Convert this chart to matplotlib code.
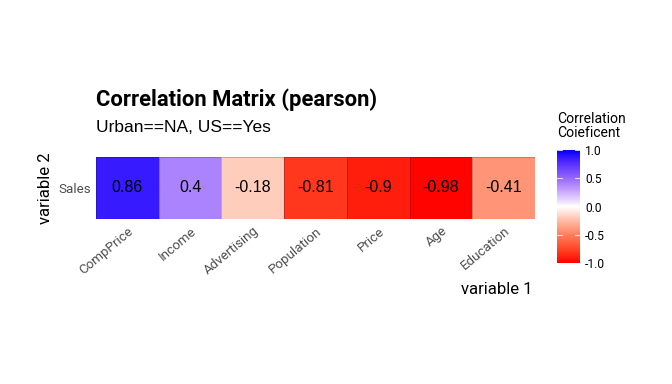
import numpy as np
import matplotlib
matplotlib.use("Agg")
import matplotlib.pyplot as plt
from matplotlib.colors import ListedColormap, Normalize
from matplotlib.cm import ScalarMappable

# data
row_label = "Sales"
variables = ["CompPrice", "Income", "Advertising", "Population", "Price", "Age", "Education"]
corr = [0.86, 0.4, -0.18, -0.81, -0.9, -0.98, -0.41]
cbar_ticks = [-1.0, -0.5, 0.0, 0.5, 1.0]


# red - white - blue gradient interpolated in Lab space
def srgb_to_lab(rgb):
    rgb = np.asarray(rgb, float)
    lin = np.where(rgb <= 0.04045, rgb / 12.92, ((rgb + 0.055) / 1.055) ** 2.4)
    m = np.array([[0.4124, 0.3576, 0.1805],
                  [0.2126, 0.7152, 0.0722],
                  [0.0193, 0.1192, 0.9505]])
    xyz = lin @ m.T / np.array([0.95047, 1.0, 1.08883])
    f = np.where(xyz > 0.008856, np.cbrt(xyz), 7.787 * xyz + 16 / 116)
    return np.stack([116 * f[..., 1] - 16,
                     500 * (f[..., 0] - f[..., 1]),
                     200 * (f[..., 1] - f[..., 2])], -1)


def lab_to_srgb(lab):
    L, a, b = lab[..., 0], lab[..., 1], lab[..., 2]
    fy = (L + 16) / 116
    fx = fy + a / 500
    fz = fy - b / 200
    f = np.stack([fx, fy, fz], -1)
    xyz = np.where(f ** 3 > 0.008856, f ** 3, (f - 16 / 116) / 7.787)
    xyz = xyz * np.array([0.95047, 1.0, 1.08883])
    minv = np.array([[3.2406, -1.5372, -0.4986],
                     [-0.9689, 1.8758, 0.0415],
                     [0.0557, -0.2040, 1.0570]])
    lin = np.clip(xyz @ minv.T, 0, 1)
    rgb = np.where(lin <= 0.0031308, 12.92 * lin, 1.055 * lin ** (1 / 2.4) - 0.055)
    return np.clip(rgb, 0, 1)


red = srgb_to_lab([1, 0, 0])
white = srgb_to_lab([1, 1, 1])
blue = srgb_to_lab([0, 0, 1])
t = np.linspace(0, 1, 128)[:, None]
t2 = 1 - (1 - t) ** 1.5   # the reference ramps towards the ends faster
lower = white + (red - white) * t2[::-1]
upper = white + (blue - white) * t2
cmap = ListedColormap(lab_to_srgb(np.vstack([lower, upper])))
norm = Normalize(-1, 1)

fig = plt.figure(figsize=(7, 4), dpi=96)
ax = fig.add_axes([0.1429, 0.4297, 0.6533, 0.1615])

vals = np.array([corr])
ax.pcolormesh(vals, cmap=cmap, norm=norm, edgecolor=(0, 0, 0, 0.2), linewidth=0.6)
for i, v in enumerate(corr):
    ax.text(i + 0.5, 0.5, f"{v:g}", ha="center", va="center", fontsize=12,
            family="Liberation Sans", color="black")

ax.set_xlim(0, len(variables))
ax.set_ylim(0, 1)
ax.set_xticks(np.arange(len(variables)) + 0.5)
ax.set_xticklabels(variables, rotation=40, ha="right", rotation_mode="anchor",
                   fontsize=10, family="Roboto", color="#4d4d4d")
ax.set_yticks([0.5])
ax.set_yticklabels([row_label], fontsize=10, family="Roboto", color="#4d4d4d")
ax.tick_params(length=0, pad=4)
for s in ax.spines.values():
    s.set_visible(False)

fig.text(0.067, 0.51, "variable 2", rotation=90, ha="center", va="center",
         fontsize=12.5, family="Roboto")
fig.text(0.792, 0.245, "variable 1", ha="right", va="center",
         fontsize=12.5, family="Roboto")

fig.text(0.1429, 0.725, "Correlation Matrix (pearson)", fontsize=16.5,
         fontweight="bold", family="Roboto", ha="left", va="baseline")
fig.text(0.1429, 0.656, "Urban==NA, US==Yes", fontsize=13,
         family="Liberation Sans", ha="left", va="baseline")

# colour bar
cax = fig.add_axes([0.829, 0.315, 0.034, 0.294])
cb = fig.colorbar(ScalarMappable(norm=norm, cmap=cmap), cax=cax, ticks=cbar_ticks)
cb.outline.set_visible(False)
cb.ax.tick_params(length=0, labelsize=9, pad=4)
cb.ax.set_yticklabels([f"{v:.1f}" for v in cbar_ticks], family="Roboto")
for v in cbar_ticks:
    cb.ax.plot([0, 0.2], [v, v], color="white", lw=0.6, transform=cb.ax.get_yaxis_transform())
    cb.ax.plot([0.8, 1], [v, v], color="white", lw=0.6, transform=cb.ax.get_yaxis_transform())
fig.text(0.829, 0.636, "Correlation\nCoieficent", fontsize=10.5, family="Roboto",
         ha="left", va="bottom", linespacing=1.0)

fig.savefig("out.png", dpi=96)
